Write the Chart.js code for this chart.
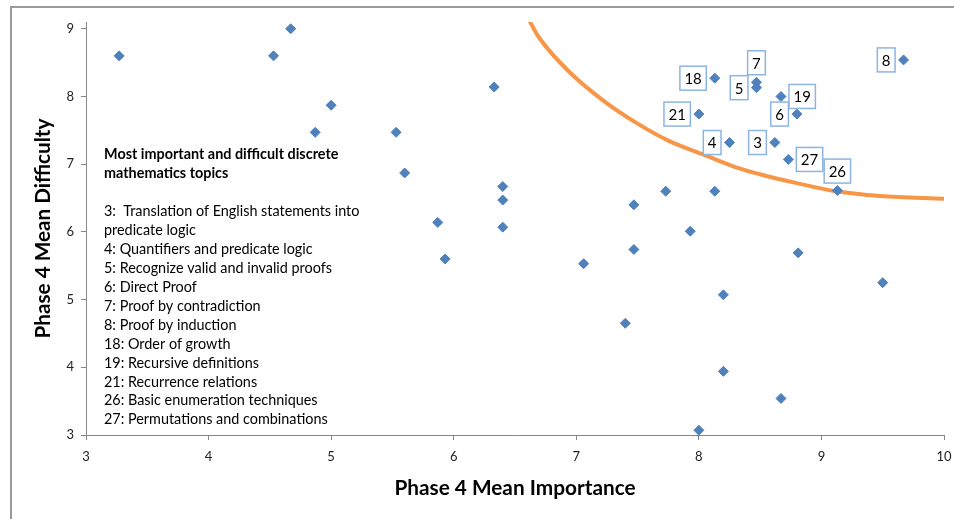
<!DOCTYPE html>
<html>
<head>
<meta charset="utf-8">
<title>Phase 4 Mean Importance vs Mean Difficulty</title>
<script src="https://cdn.jsdelivr.net/npm/chart.js@4.4.1/dist/chart.umd.min.js"></script>
<style>
  html, body { margin: 0; padding: 0; background: #fff; overflow: hidden; }
  #frame { position: absolute; left: 10px; top: 6px; width: 980px; height: 540px; border-left: 2px solid #9a9a9a; border-top: 2px solid #9a9a9a; }
  #chart { position: absolute; left: 0; top: 0; }
</style>
</head>
<body>
<div id="frame"></div>
<canvas id="chart" width="954" height="519"></canvas>
<script>
// topics without a number label
const otherImportance = [3.27, 4.53, 4.67, 5.00, 4.87, 5.53, 5.60, 5.87, 5.93, 6.33, 6.40, 6.40, 6.40,
  7.47, 7.73, 8.13, 7.93, 7.47, 8.81, 7.06, 8.20, 9.50, 7.40, 8.20, 8.67, 8.00];
const otherDifficulty = [8.60, 8.60, 9.00, 7.87, 7.47, 7.47, 6.87, 6.14, 5.60, 8.14, 6.67, 6.47, 6.07,
  6.40, 6.60, 6.60, 6.01, 5.74, 5.69, 5.53, 5.07, 5.25, 4.65, 3.94, 3.54, 3.07];

// most important and difficult topics (numbered)
const topicIds = ["18", "7", "5", "19", "6", "21", "4", "3", "27", "26", "8"];
const topicImportance = [8.13, 8.47, 8.47, 8.67, 8.80, 8.00, 8.25, 8.62, 8.73, 9.13, 9.67];
const topicDifficulty = [8.27, 8.21, 8.13, 8.00, 7.74, 7.74, 7.32, 7.32, 7.07, 6.61, 8.54];
const topicLabelSide = ["left", "above", "left", "right", "left", "left", "left", "left", "right", "above", "left"];

// orange boundary curve
const curveImportance = [6.62, 6.70, 6.95, 7.22, 7.49, 7.76, 8.04, 8.31, 8.52, 8.80, 9.12, 9.48, 10.0];
const curveDifficulty = [9.11, 8.86, 8.35, 7.94, 7.61, 7.34, 7.14, 6.95, 6.84, 6.72, 6.60, 6.53, 6.49];

const xTicks = [3, 4, 5, 6, 7, 8, 9, 10];
const yTicks = [3, 4, 5, 6, 7, 8, 9];

const noteTitle = ["Most important and difficult discrete", "mathematics topics"];
const noteLines = [
  "",
  "3:  Translation of English statements into",
  "predicate logic",
  "4: Quantifiers and predicate logic",
  "5: Recognize valid and invalid proofs",
  "6: Direct Proof",
  "7: Proof by contradiction",
  "8: Proof by induction",
  "18: Order of growth",
  "19: Recursive definitions",
  "21: Recurrence relations",
  "26: Basic enumeration techniques",
  "27: Permutations and combinations"
];

const toPoints = (xs, ys) => xs.map((x, i) => ({ x: x, y: ys[i] }));

const FONT = "Lato, 'Open Sans', sans-serif";
const BLUE = "#4F81BD";

// numbered boxes next to the points
const topicLabels = {
  id: "topicLabels",
  afterDatasetsDraw(chart) {
    const ctx = chart.ctx;
    const meta = chart.getDatasetMeta(1);
    ctx.save();
    ctx.font = "15px " + FONT;
    ctx.textAlign = "center";
    ctx.textBaseline = "middle";
    meta.data.forEach((pt, i) => {
      const text = topicIds[i];
      const w = ctx.measureText(text).width + 9;
      const h = 24;
      let cx = pt.x, cy = pt.y;
      if (topicLabelSide[i] === "left") cx = pt.x - 8.5 - w / 2;
      else if (topicLabelSide[i] === "right") cx = pt.x + 8 + w / 2;
      else cy = pt.y - 7.5 - h / 2;
      ctx.fillStyle = "#fff";
      ctx.fillRect(cx - w / 2, cy - h / 2, w, h);
      ctx.strokeStyle = "#8EB4E3";
      ctx.lineWidth = 1.5;
      ctx.strokeRect(cx - w / 2, cy - h / 2, w, h);
      ctx.fillStyle = "#000";
      ctx.fillText(text, cx, cy + 1);
    });
    ctx.restore();
  }
};

// the text block inside the plot
const noteBox = {
  id: "noteBox",
  afterDraw(chart) {
    const ctx = chart.ctx;
    const x = chart.chartArea.left + 18;
    let y = chart.chartArea.top + 132.5;
    const step = 18.95;
    ctx.save();
    ctx.fillStyle = "#000";
    ctx.textAlign = "left";
    ctx.textBaseline = "middle";
    ctx.font = "bold 14.4px " + FONT;
    noteTitle.forEach(t => { ctx.fillText(t, x, y); y += step; });
    ctx.font = "14.4px " + FONT;
    noteLines.forEach(t => { ctx.fillText(t, x, y); y += step; });
    ctx.restore();
  }
};

new Chart(document.getElementById("chart"), {
  type: "scatter",
  data: {
    datasets: [
      {
        data: toPoints(otherImportance, otherDifficulty),
        pointStyle: "rectRot",
        pointRadius: 5,
        backgroundColor: BLUE,
        borderColor: BLUE,
        borderWidth: 1
      },
      {
        data: toPoints(topicImportance, topicDifficulty),
        pointStyle: "rectRot",
        pointRadius: 5,
        backgroundColor: BLUE,
        borderColor: BLUE,
        borderWidth: 1
      },
      {
        data: toPoints(curveImportance, curveDifficulty),
        showLine: true,
        pointRadius: 0,
        borderColor: "#F79646",
        borderWidth: 4,
        tension: 0.4,
        cubicInterpolationMode: "monotone"
      }
    ]
  },
  options: {
    responsive: false,
    animation: false,
    devicePixelRatio: 1,
    layout: { padding: { top: 22, right: 10, left: 0, bottom: 0 } },
    plugins: {
      legend: { display: false },
      tooltip: { enabled: false }
    },
    scales: {
      x: {
        type: "linear",
        min: 3,
        max: 10,
        afterBuildTicks: s => { s.ticks = xTicks.map(v => ({ value: v })); },
        afterFit: s => { s.height = 84; s.paddingLeft = 0; s.paddingRight = 0; },
        grid: { drawOnChartArea: false, drawTicks: true, tickLength: 5, color: "#868686" },
        border: { color: "#868686", width: 1 },
        ticks: { padding: 9, color: "#222", font: { family: FONT, size: 13 } },
        title: {
          display: true,
          text: "Phase 4 Mean Importance",
          color: "#000",
          font: { family: FONT, size: 20.8, weight: "bold" },
          padding: { top: 0, bottom: 18.5 }
        }
      },
      y: {
        type: "linear",
        min: 3,
        max: 9.1,
        afterBuildTicks: s => { s.ticks = yTicks.map(v => ({ value: v })); },
        afterFit: s => { s.width = 86; s.paddingTop = 0; s.paddingBottom = 0; },
        grid: { drawOnChartArea: false, drawTicks: true, tickLength: 5, color: "#868686" },
        border: { color: "#868686", width: 1 },
        ticks: { padding: 7, color: "#222", font: { family: FONT, size: 13 } },
        title: {
          display: true,
          text: "Phase 4 Mean Difficulty",
          color: "#000",
          font: { family: FONT, size: 20.7, weight: "bold" },
          padding: { top: 31, bottom: 0 }
        }
      }
    }
  },
  plugins: [topicLabels, noteBox]
});
</script>
</body>
</html>
